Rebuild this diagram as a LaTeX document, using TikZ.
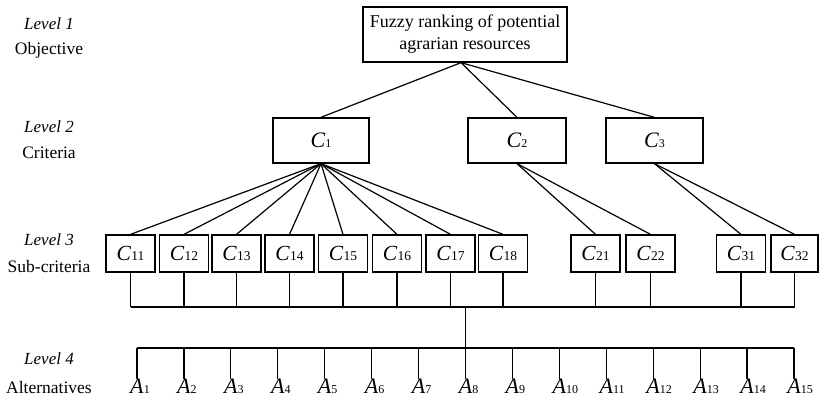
\documentclass[tikz,border=0pt]{standalone}
\usepackage{fontspec}
\setmainfont{Liberation Serif}
\begin{document}
\begin{tikzpicture}[x=1pt,y=-1pt,
  every node/.style={font=\fontsize{17.5}{21}\selectfont},
  box/.style={draw,line width=1.3pt,inner sep=0pt,minimum height=#1},
  box/.default=37pt,
  link/.style={line width=1.2pt},
  lvl/.style={font=\fontsize{17}{20}\selectfont\itshape},
  lvlname/.style={font=\fontsize{17.5}{21}\selectfont}]
\useasboundingbox (0,0) rectangle (819,402);

% criterion label: italic C with small upright index
\newcommand\crit[1]{\textit{C}{\fontsize{13.5}{13.5}\selectfont\raisebox{-0.3pt}{#1}}}
\newcommand\critb[1]{\textit{C}{\fontsize{12}{12}\selectfont\raisebox{-0.3pt}{#1}}}
% alternative label: index hangs to the right of the centred A
\newcommand\alt[1]{\fontsize{22}{22}\selectfont\textit{A}\rlap{\fontsize{12}{12}\selectfont #1}}

% level captions
\node[lvl]     (l1) at (49,24)  {Level 1};
\node[lvlname] (n1) at (49,50)  {Objective};
\node[lvl]     (l2) at (49,127) {Level 2};
\node[lvlname] (n2) at (49,153) {Criteria};
\node[lvl]     (l3) at (49,240) {Level 3};
\node[lvlname] (n3) at (49,267) {Sub-criteria};
\node[lvl]     (l4) at (49,359) {Level 4};
\node[lvlname] (n4) at (49,388) {Alternatives};

% objective
\node[box=55pt,minimum width=204pt,align=center,font=\fontsize{18}{22}\selectfont]
  (top) at (465,34.5) {Fuzzy ranking of potential\\agrarian resources};

% criteria
\node[box=45pt,minimum width=96pt,font=\fontsize{22}{22}\selectfont] (C1) at (321,140.5) {\critb{1}};
\node[box=45pt,minimum width=98pt,font=\fontsize{22}{22}\selectfont] (C2) at (517,140.5) {\critb{2}};
\node[box=45pt,minimum width=97pt,font=\fontsize{22}{22}\selectfont] (C3) at (654.5,140.5) {\critb{3}};

% sub-criteria
\foreach \n/\x in {11/130.5,12/184,13/236.5,14/289.5,15/343,16/397,17/450.5,18/503,
                   21/595.5,22/650.5,31/741}
  \node[box,minimum width=49pt,font=\fontsize{21.5}{21.5}\selectfont] (C\n) at (\x,253.5) {\crit{\n}};
\node[box,minimum width=47pt,font=\fontsize{21.5}{21.5}\selectfont] (C32) at (794.5,253.5) {\crit{32}};

% alternatives
\foreach \i in {1,...,15}
  \node[anchor=north,inner sep=0pt] (A\i) at ({137+(\i-1)*46.93},379) {\alt{\i}};

% objective to criteria
\coordinate (topfoot) at ([xshift=-4pt]top.south);
\foreach \c in {C1,C2,C3}
  \draw[link] (topfoot) -- (\c.north);

% criteria to sub-criteria
\foreach \s in {11,...,18}
  \draw[link] (C1.south) -- (C\s.north);
\foreach \s in {21,22}
  \draw[link] (C2.south) -- (C\s.north);
\foreach \s in {31,32}
  \draw[link] (C3.south) -- (C\s.north);

% sub-criteria bus
\coordinate (busS) at (0,307);
\foreach \s in {11,12,13,14,15,16,17,18,21,22,31,32}
  \draw[link] (C\s.south) -- (C\s.south |- busS);
\draw[link] (C11.south |- busS) -- (C32.south |- busS);

% alternatives bus
\coordinate (busA) at (0,348);
\draw[link] (A8.north |- busS) -- (A8.north |- busA);
\draw[link] (A1.north |- busA) -- (A15.north |- busA);
\foreach \i in {1,...,15}
  \draw[link] (A\i.north |- busA) -- (A\i.north);
\end{tikzpicture}
\end{document}
